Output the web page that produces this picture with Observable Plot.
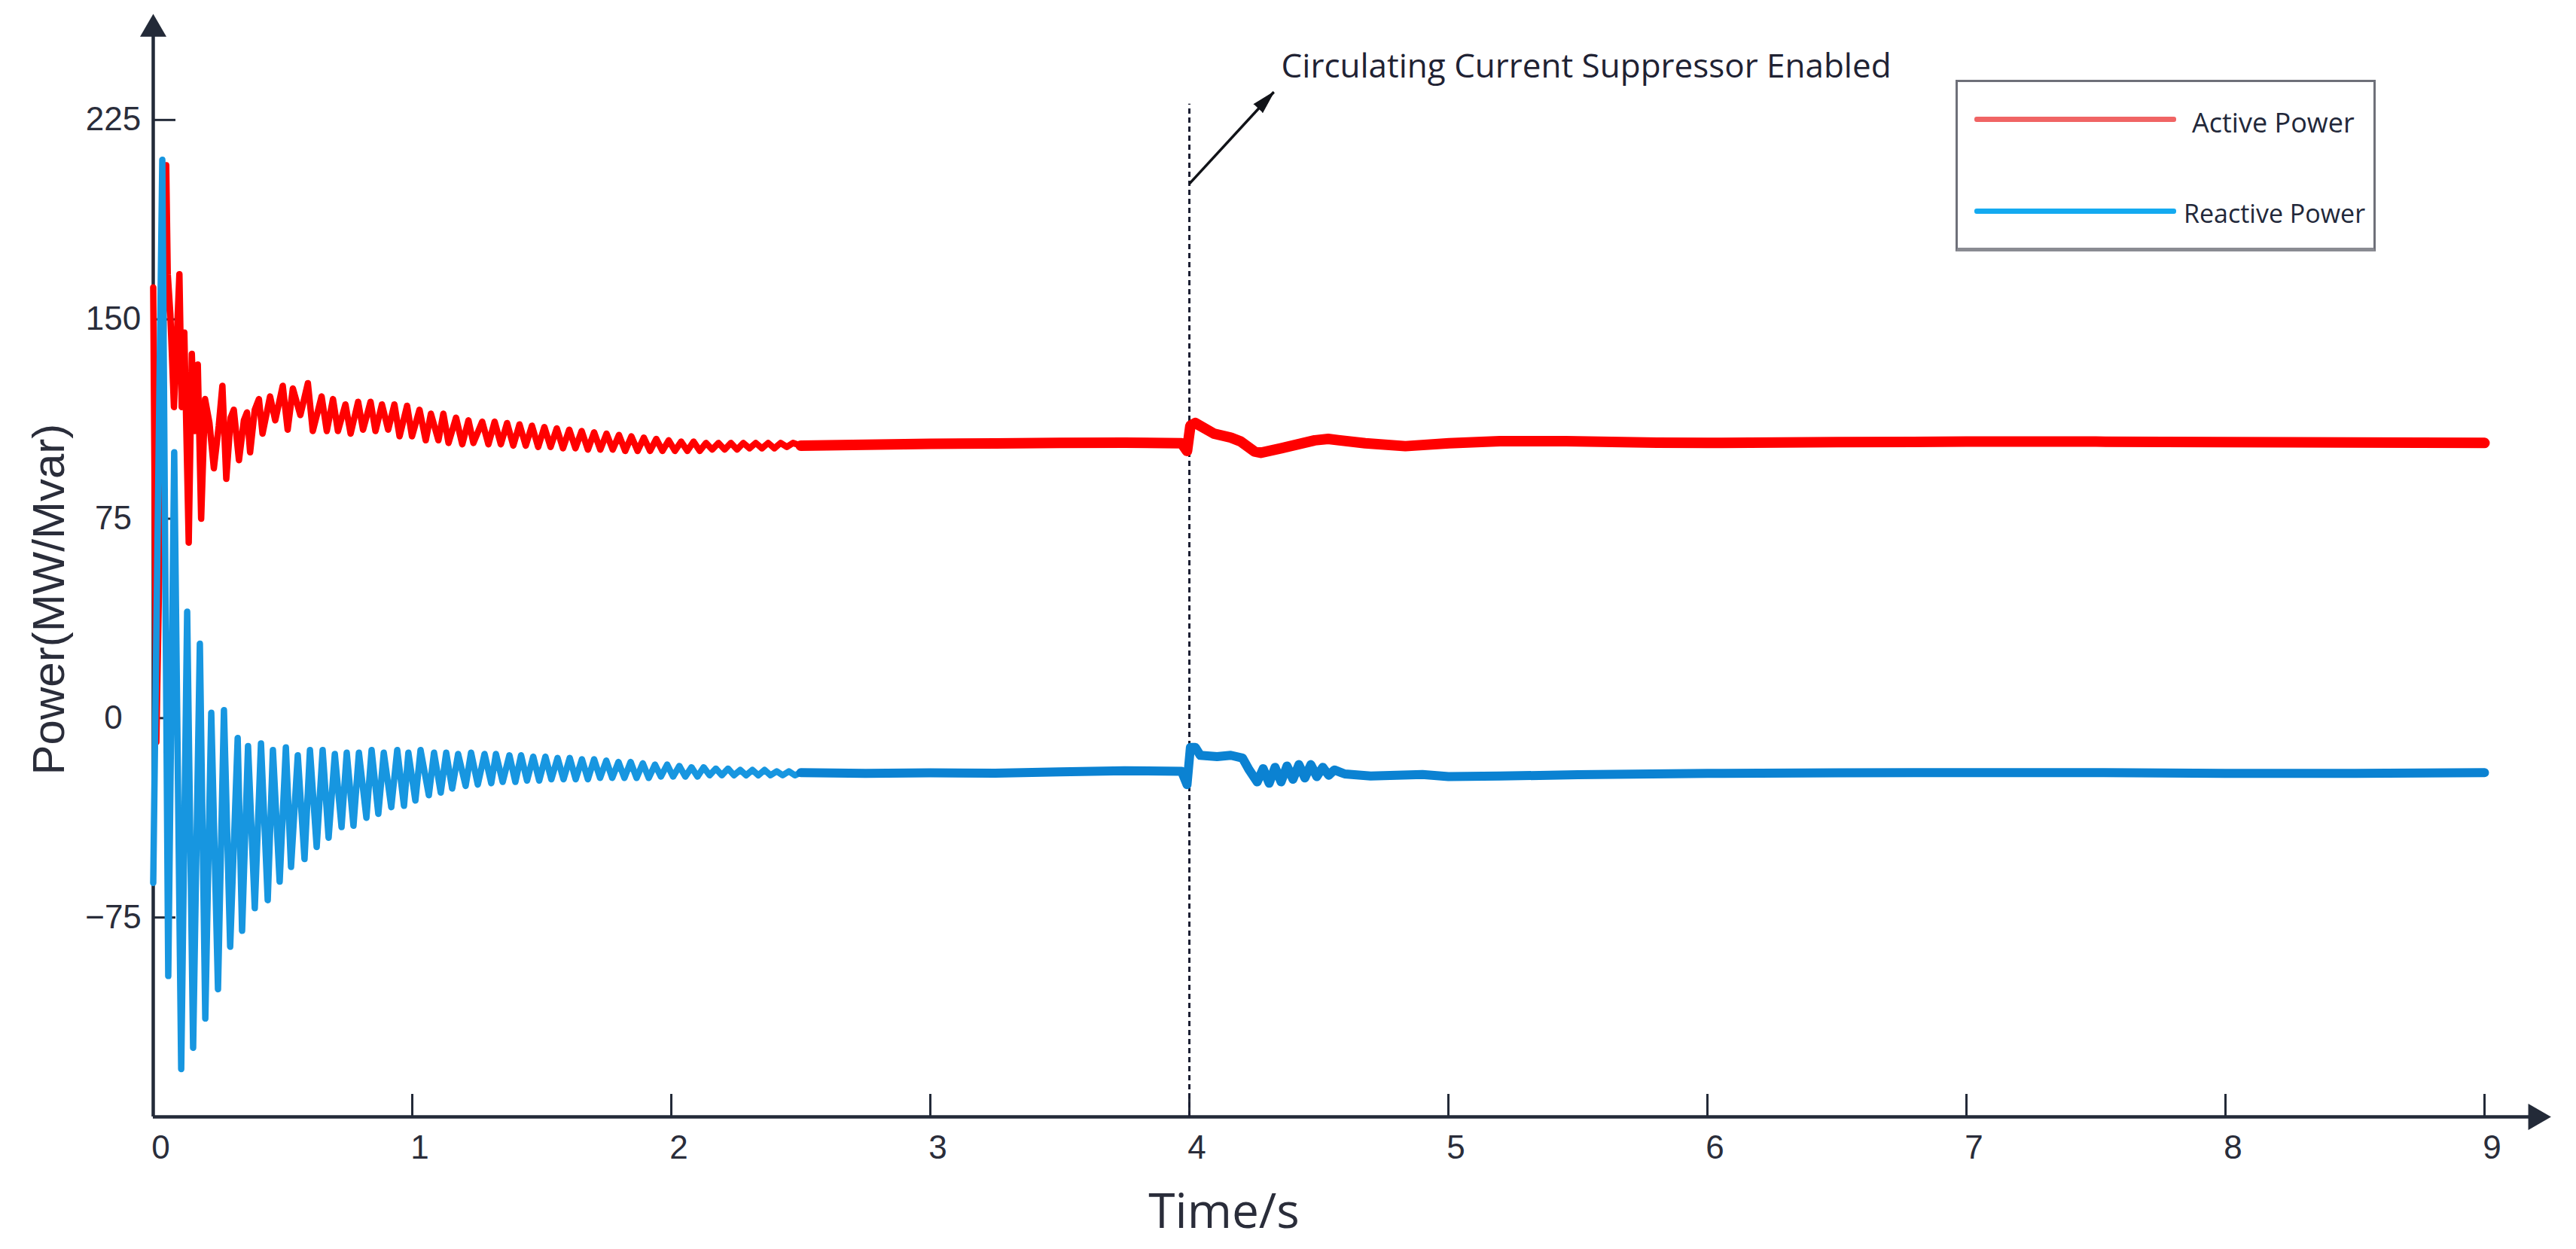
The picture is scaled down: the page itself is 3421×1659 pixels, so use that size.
<!DOCTYPE html>
<html>
<head>
<meta charset="utf-8">
<script src="https://cdn.jsdelivr.net/npm/d3@7"></script>
<script src="https://cdn.jsdelivr.net/npm/@observablehq/plot@0.6"></script>
<style>
  html, body { margin: 0; padding: 0; background: #ffffff; }
  #wrap { position: relative; width: 3421px; height: 1659px; }
  #legend { position: absolute; left: 2597px; top: 106px; width: 552px; height: 220px;
    border: 3px solid #6e7079; border-bottom: 5px solid #8a8b92; background: #ffffff;
    font-family: "Open Sans", sans-serif; color: #22283a; }
  .lg-line { position: absolute; left: 22px; width: 268px; height: 7px; border-radius: 3px; }
  .lg-text { position: absolute; white-space: nowrap; line-height: 1; }
</style>
</head>
<body>
<div id="wrap"><div id="legend"></div></div>
<script>
// ---------------- data ----------------
const seriesNames = ["Active Power", "Reactive Power"];

// Active power, start-up transient  [time s, MW]
const activeTransient = [
  [0, 162], [0.012, -9], [0.05, 208], [0.056, 167], [0.066, 152], [0.08, 117], [0.101, 167],
  [0.110, 117], [0.120, 145], [0.137, 66], [0.149, 137], [0.159, 108], [0.172, 133], [0.185, 75],
  [0.200, 120], [0.217, 111], [0.234, 94], [0.253, 110], [0.267, 125], [0.282, 90], [0.299, 113],
  [0.311, 116], [0.331, 97], [0.350, 112], [0.362, 115], [0.374, 100], [0.392, 116], [0.408, 120],
  [0.422, 107], [0.451, 121], [0.471, 112], [0.500, 125], [0.519, 108.5], [0.539, 124], [0.568, 114],
  [0.597, 126], [0.616, 108], [0.650, 121], [0.670, 108], [0.694, 120], [0.713, 108], [0.742, 118],
  [0.762, 107], [0.791, 119], [0.810, 108.5], [0.839, 119], [0.858, 108], [0.883, 118], [0.907, 108.5],
  [0.931, 118], [0.951, 106], [0.980, 117.5], [0.999, 106], [1.028, 116], [1.052, 104.5], [1.072, 114.5],
  [1.101, 104.5], [1.120, 114.5], [1.140, 103.5], [1.169, 113], [1.193, 103], [1.217, 112], [1.236, 103.5],
  [1.270, 111.5], [1.294, 103], [1.318, 111.5], [1.342, 103], [1.366, 111], [1.390, 102.5], [1.414, 110.5],
  [1.438, 102.5], [1.462, 110], [1.486, 102], [1.510, 109.5], [1.534, 102], [1.558, 109], [1.582, 101.5],
  [1.606, 108.5], [1.630, 101.5], [1.654, 108], [1.678, 101], [1.702, 107.5], [1.726, 101], [1.750, 107],
  [1.774, 101], [1.798, 106.5], [1.822, 100.5], [1.846, 106], [1.870, 100.5], [1.894, 105.5], [1.918, 100.5],
  [1.942, 105], [1.966, 100.5], [1.990, 104.5], [2.014, 100.5], [2.038, 104], [2.062, 100.5], [2.086, 104],
  [2.110, 100.5], [2.134, 103.5], [2.158, 101], [2.182, 103.5], [2.206, 101], [2.230, 103.5], [2.254, 101],
  [2.278, 103.5], [2.302, 101.5], [2.326, 103.5], [2.350, 101.5], [2.374, 103.5], [2.398, 101.5],
  [2.422, 103.5], [2.446, 102], [2.470, 103.5], [2.5, 102.5]
];

// Active power, settled part incl. suppressor step at 4 s
const activeSteady = [
  [2.5, 102.5], [2.75, 102.8], [3.0, 103.2], [3.25, 103.3], [3.5, 103.5], [3.75, 103.6], [3.97, 103.4],
  [3.991, 100.5], [4.004, 110], [4.023, 111], [4.095, 107], [4.160, 105.5], [4.199, 104], [4.251, 100.3],
  [4.276, 99.8], [4.355, 101.5], [4.484, 104.5], [4.536, 105], [4.679, 103.4], [4.834, 102.3], [5.003, 103.4],
  [5.198, 104.2], [5.456, 104.2], [5.805, 103.6], [6.0, 103.5], [6.5, 103.8], [7.0, 104], [7.5, 104],
  [8.0, 103.8], [8.5, 103.7], [9.0, 103.5]
];

// Reactive power, start-up transient  [time s, Mvar]
const reactiveTransient = [
  [0, -62], [0.035, 210], [0.058, -97], [0.081, 100], [0.108, -132], [0.131, 40], [0.154, -124],
  [0.180, 28], [0.201, -113], [0.224, 2], [0.250, -102], [0.273, 3], [0.297, -86], [0.326, -7.5],
  [0.343, -80], [0.366, -10.5], [0.392, -71.5], [0.416, -9.5], [0.442, -68.5], [0.462, -12], [0.488, -61.5],
  [0.512, -11], [0.532, -56], [0.558, -14], [0.584, -53], [0.605, -12], [0.631, -48.5], [0.654, -12],
  [0.677, -45], [0.701, -13.5], [0.727, -41], [0.747, -13], [0.773, -40.5], [0.794, -13], [0.823, -37.5],
  [0.843, -12], [0.869, -36], [0.890, -13], [0.919, -33.5], [0.942, -12], [0.968, -33], [0.985, -13],
  [1.012, -31], [1.032, -12], [1.064, -29], [1.084, -13], [1.110, -28], [1.131, -13], [1.154, -26.5],
  [1.177, -13.5], [1.206, -25.5], [1.227, -13], [1.253, -25], [1.279, -13.5], [1.305, -24.5], [1.323, -13.5],
  [1.349, -24], [1.375, -14], [1.398, -24], [1.420, -14], [1.443, -23.5], [1.467, -14.5], [1.490, -23.5],
  [1.514, -14.5], [1.537, -23], [1.561, -15], [1.584, -23], [1.608, -15], [1.631, -23], [1.655, -15.5],
  [1.678, -23], [1.702, -15.5], [1.725, -22.5], [1.749, -16], [1.772, -22.5], [1.796, -16.5], [1.819, -22.5],
  [1.843, -16.5], [1.866, -22.5], [1.890, -17], [1.913, -22.5], [1.937, -17.5], [1.960, -22], [1.984, -17.5],
  [2.007, -22], [2.031, -18], [2.054, -22], [2.078, -18.5], [2.101, -22], [2.125, -18.5], [2.148, -21.5],
  [2.172, -19], [2.195, -21.5], [2.219, -19], [2.242, -21.5], [2.266, -19.5], [2.289, -21.5], [2.313, -19.5],
  [2.336, -21.5], [2.360, -19.5], [2.383, -21.5], [2.407, -20], [2.430, -21.5], [2.454, -20], [2.477, -21.5],
  [2.5, -20.5]
];

// Reactive power, settled part incl. suppressor step at 4 s
const reactiveSteady = [
  [2.5, -20.5], [2.75, -20.8], [3.0, -20.6], [3.25, -20.7], [3.5, -20.2], [3.75, -19.8], [3.97, -20],
  [3.991, -25], [4.004, -11], [4.023, -11], [4.042, -14], [4.107, -14.5], [4.160, -14], [4.205, -15],
  [4.231, -19.5], [4.262, -24], [4.285, -19], [4.308, -24.5], [4.331, -18.5], [4.354, -24], [4.377, -18],
  [4.400, -23], [4.423, -17.5], [4.446, -22.5], [4.469, -17.5], [4.492, -22], [4.515, -18.5], [4.538, -21.5],
  [4.56, -19.5], [4.6, -21], [4.7, -21.8], [4.8, -21.5], [4.9, -21.2], [5.0, -22], [5.2, -21.8], [5.5, -21.3],
  [6.0, -20.8], [6.5, -20.6], [7.0, -20.5], [7.5, -20.5], [8.0, -20.8], [8.5, -20.8], [9.0, -20.5]
];

const xTicks = [1, 2, 3, 4, 5, 6, 7, 8, 9];
const xLabelTicks = [0, 1, 2, 3, 4, 5, 6, 7, 8, 9];
const yTicks = [-75, 0, 75, 150, 225];
const eventTime = [4];
const annotationText = ["Circulating Current Suppressor Enabled"];
const xLabel = "Time/s";
const yLabel = "Power(MW/Mvar)";

// ---------------- layout & style ----------------
const W = 3421, H = 1659;
const ML = 203, MR = 18.8, MT = 28.2, MB = 176;
const xDomain = [0, 9.3], yDomain = [-150, 262];
const pxPerX = (W - ML - MR) / (xDomain[1] - xDomain[0]);
const pxPerY = (H - MT - MB) / (yDomain[1] - yDomain[0]);
const TICK = 30;
const RED = "#ff0000", BLUE_T = "#1796e0", BLUE_S = "#0b82d2";
const AXIS = "#232a38", TXT = "#2a2d3a";
const xArrow = xDomain[1] - 35 / pxPerX;     // centre of x-axis arrowhead
const yArrow = yDomain[1] - 10 / pxPerY;     // centre of y-axis arrowhead
const dashTop = 231;
const annot = {x1: 4, y1: 201, x2: 4.326, y2: 235.5, tx: 4.355, ty: 245};
const fmt = d => d < 0 ? "\u2212" + Math.abs(d) : String(d);

const chart = Plot.plot({
  width: W, height: H,
  marginLeft: ML, marginRight: MR, marginTop: MT, marginBottom: MB,
  x: {domain: xDomain}, y: {domain: yDomain},
  style: {background: "transparent", fontFamily: "Liberation Sans, Arial, sans-serif", overflow: "visible"},
  marks: [
    // axes lines + ticks
    Plot.ruleY([yDomain[0]], {x1: 0, x2: xArrow, stroke: AXIS, strokeWidth: 4.5}),
    Plot.ruleX([0], {y1: yDomain[0], y2: yArrow, stroke: AXIS, strokeWidth: 4.5}),
    Plot.ruleX(xTicks, {x: d => d, y1: yDomain[0], y2: yDomain[0] + TICK / pxPerY, stroke: AXIS, strokeWidth: 3}),
    Plot.ruleY(yTicks, {y: d => d, x1: 0, x2: TICK / pxPerX, stroke: AXIS, strokeWidth: 3}),
    Plot.dot([[xArrow, yDomain[0]]], {x: d => d[0], y: d => d[1], symbol: "triangle", r: 13, rotate: 90, fill: AXIS, stroke: null}),
    Plot.dot([[0, yArrow]], {x: d => d[0], y: d => d[1], symbol: "triangle", r: 13, fill: AXIS, stroke: null}),
    Plot.axisX(xLabelTicks, {tickSize: 0, tickPadding: 24, fontSize: 44, dx: 10, fill: TXT, label: null, tickFormat: fmt}),
    Plot.axisY(yTicks, {tickSize: 0, tickPadding: 53, fontSize: 44, textAnchor: "middle", fill: TXT, label: null, tickFormat: fmt}),
    Plot.text([xLabel], {frameAnchor: "bottom-left", dx: 1625 - ML, dy: 127, fontSize: 64,
      fontFamily: "Open Sans, sans-serif", fill: TXT, textAnchor: "middle", lineAnchor: "middle"}),
    Plot.text([yLabel], {frameAnchor: "left", rotate: -90, dx: 65 - ML, dy: 40, fontSize: 60,
      fill: TXT, textAnchor: "middle", lineAnchor: "middle"}),
    // event marker
    Plot.ruleX(eventTime, {x: d => d, y1: yDomain[0], y2: dashTop, stroke: "#1c1f33", strokeWidth: 3, strokeDasharray: "7,5"}),
    // data
    Plot.line(activeTransient, {x: d => d[0], y: d => d[1], stroke: RED, strokeWidth: 8.5}),
    Plot.line(activeSteady, {x: d => d[0], y: d => d[1], stroke: RED, strokeWidth: 14}),
    Plot.line(reactiveTransient, {x: d => d[0], y: d => d[1], stroke: BLUE_T, strokeWidth: 8.5}),
    Plot.line(reactiveSteady, {x: d => d[0], y: d => d[1], stroke: BLUE_S, strokeWidth: 12}),
    // annotation arrow + text
    Plot.link([annot], {x1: "x1", y1: "y1", x2: "x2", y2: "y2", stroke: "#111318", strokeWidth: 3.5}),
    Plot.vector([annot], {x: "x2", y: "y2", length: 30, rotate: 43.5, shape: "spike", r: 8, anchor: "end",
      fill: "#111318", stroke: "#111318", strokeWidth: 1}),
    Plot.text(annotationText, {x: () => annot.tx, y: () => annot.ty, textAnchor: "start", fontSize: 44,
      fontFamily: "Open Sans, sans-serif", fill: "#1f2233"})
  ]
});
document.getElementById("wrap").prepend(chart);
chart.style.position = "absolute";
chart.style.left = "0px";
chart.style.top = "0px";

// legend inside plot area (HTML overlay)
const legend = document.getElementById("legend");
const legendItems = [
  {name: seriesNames[0], color: "#f06464", lineTop: 46, textLeft: 311, textTop: 36, size: 36},
  {name: seriesNames[1], color: "#14aaf0", lineTop: 168, textLeft: 300, textTop: 157, size: 34}
];
legendItems.forEach(it => {
  const ln = document.createElement("div");
  ln.className = "lg-line"; ln.style.top = it.lineTop + "px"; ln.style.background = it.color;
  legend.appendChild(ln);
  const tx = document.createElement("div");
  tx.className = "lg-text"; tx.textContent = it.name;
  tx.style.left = it.textLeft + "px"; tx.style.top = it.textTop + "px"; tx.style.fontSize = it.size + "px";
  legend.appendChild(tx);
});
</script>
</body>
</html>
